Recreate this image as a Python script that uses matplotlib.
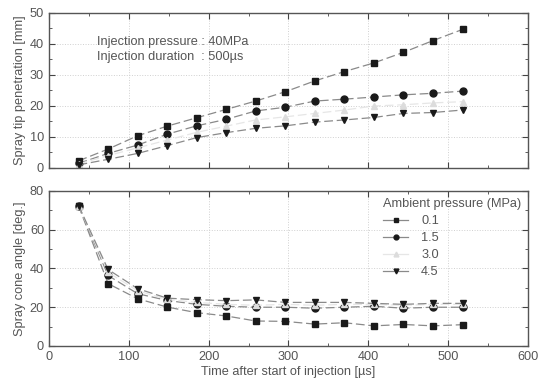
import matplotlib
matplotlib.use("Agg")
import matplotlib.pyplot as plt
import matplotlib.lines as mlines
from matplotlib.ticker import MultipleLocator

plt.rcParams['font.family'] = ['Liberation Sans', 'DejaVu Sans']

time_us = [37, 74, 111, 148, 185, 222, 259, 296, 333, 370, 407, 444, 481, 518]
pressures = ["0.1", "1.5", "3.0", "4.5"]

pen_01 = [2.3, 6.1, 10.4, 13.5, 16.2, 18.9, 21.6, 24.6, 28.1, 31.1, 33.9, 37.3, 41.1, 44.7]
pen_15 = [1.5, 4.7, 7.4, 10.9, 13.6, 15.7, 18.4, 19.6, 21.6, 22.2, 22.9, 23.6, 24.1, 24.8]
pen_30 = [1.3, 4.0, 6.5, 9.0, 11.5, 13.5, 15.5, 16.5, 17.6, 18.7, 20.0, 20.4, 21.0, 21.4]
pen_45 = [1.0, 2.8, 4.7, 7.2, 9.8, 11.4, 12.8, 13.6, 14.8, 15.5, 16.3, 17.6, 17.9, 18.7]

ang_01 = [72.5, 32.2, 24.4, 20.1, 17.2, 15.5, 12.9, 12.7, 11.3, 12.0, 10.4, 11.1, 10.4, 11.0]
ang_15 = [72.5, 36.4, 27.0, 23.5, 21.5, 20.5, 20.0, 20.0, 19.5, 20.0, 20.5, 19.5, 20.0, 20.0]
ang_30 = [72.5, 38.0, 28.5, 24.0, 22.5, 21.5, 21.0, 21.5, 21.0, 21.5, 21.5, 21.0, 21.5, 21.5]
ang_45 = [72.5, 39.5, 29.6, 24.7, 23.9, 23.4, 23.8, 22.5, 22.5, 22.5, 22.0, 21.5, 22.0, 22.0]

pen_series = [pen_01, pen_15, pen_30, pen_45]
ang_series = [ang_01, ang_15, ang_30, ang_45]
markers = ['s', 'o', '^', 'v']
mcolors = ['#1a1a1a', '#1a1a1a', '#dcdcdc', '#1a1a1a']
lcolors = ['#8a8a8a', '#8a8a8a', '#e6e6e6', '#8a8a8a']

txt = '#555555'
fs = 9.2
fig = plt.figure(figsize=(5.43, 3.80), dpi=100)
ax1 = fig.add_axes([0.0902, 0.5579, 0.8822, 0.4079])
ax2 = fig.add_axes([0.0902, 0.0895, 0.8822, 0.4079])

for ax in (ax1, ax2):
    ax.set_xlim(0, 600)
    ax.xaxis.set_major_locator(MultipleLocator(100))
    ax.xaxis.set_minor_locator(MultipleLocator(50))
    ax.tick_params(which='both', direction='in', top=True, right=True,
                   colors='#444444', labelcolor=txt, labelsize=fs)
    ax.tick_params(which='major', length=4)
    ax.tick_params(which='minor', length=2)
    ax.grid(True, which='major', linestyle=':', color='#d0d0d0', linewidth=0.7)
    for s in ax.spines.values():
        s.set_color('#555555')
        s.set_linewidth(1.0)

ax1.set_ylim(0, 50)
ax1.yaxis.set_major_locator(MultipleLocator(10))
ax1.yaxis.set_minor_locator(MultipleLocator(5))
ax1.tick_params(labelbottom=False)
ax2.set_ylim(0, 80)
ax2.yaxis.set_major_locator(MultipleLocator(20))
ax2.yaxis.set_minor_locator(MultipleLocator(10))

dash = (0, (7, 3))
for ys, m, mc, lc in zip(pen_series, markers, mcolors, lcolors):
    ax1.plot(time_us, ys, linestyle=dash, color=lc, linewidth=0.9,
             marker=m, markersize=5, markerfacecolor=mc, markeredgecolor=mc)

for ys, m, mc, lc in zip(ang_series, markers, mcolors, lcolors):
    ax2.plot(time_us, ys, linestyle=dash, color=lc, linewidth=0.9,
             marker=m, markersize=5, markerfacecolor=mc, markeredgecolor=mc)

ax1.text(0.10, 0.81, "Injection pressure : 40MPa", transform=ax1.transAxes,
         color=txt, fontsize=fs, va='center')
ax1.text(0.10, 0.715, "Injection duration  : 500\u00b5s", transform=ax1.transAxes,
         color=txt, fontsize=fs, va='center')

ax1.set_ylabel("Spray tip penetration [mm]", color=txt, fontsize=fs, labelpad=3)
ax2.set_ylabel("Spray cone angle [deg.]", color=txt, fontsize=fs, labelpad=3)
ax2.set_xlabel("Time after start of injection [\u00b5s]", color=txt, fontsize=fs, labelpad=2)

leg_handles = [mlines.Line2D([], [], color=lc, linewidth=0.9, marker=m, markersize=3.5,
                             markerfacecolor=mc, markeredgecolor=mc)
               for m, mc, lc in zip(markers, mcolors, lcolors)]
leg = ax2.legend(leg_handles, pressures, title="Ambient pressure (MPa)", loc='upper right',
                 frameon=False, fontsize=fs, title_fontsize=fs, handlelength=2.0,
                 labelspacing=0.4, borderaxespad=0.15, handletextpad=1.0, alignment='left')
for t in leg.get_texts():
    t.set_color(txt)
leg.get_title().set_color(txt)

fig.savefig("out.png", dpi=100)
